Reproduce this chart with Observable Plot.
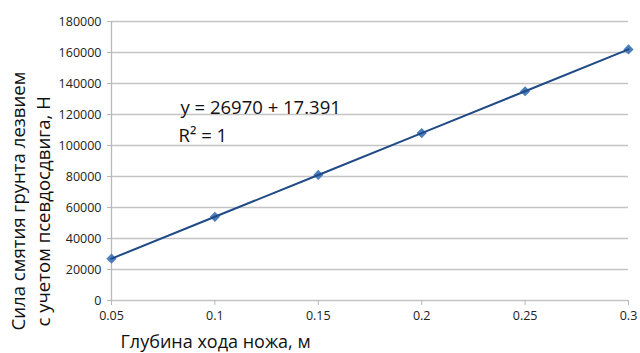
<!DOCTYPE html>
<html>
<head>
<meta charset="utf-8">
<script src="https://cdn.jsdelivr.net/npm/d3@7"></script>
<script src="https://cdn.jsdelivr.net/npm/@observablehq/plot@0.6"></script>
<style>
html, body { margin: 0; padding: 0; background: #fff; }
</style>
</head>
<body>
<div id="chart"></div>
<script>
const depth = [0.05, 0.1, 0.15, 0.2, 0.25, 0.3];
const force = [27000, 54000, 81000, 108000, 135000, 162000];
const xTicks = [0.05, 0.1, 0.15, 0.2, 0.25, 0.3];
const yTicks = [0, 20000, 40000, 60000, 80000, 100000, 120000, 140000, 160000, 180000];
const yLabelLines = ["Сила смятия грунта лезвием", "с учетом псевдосдвига, Н"];
const xLabel = "Глубина хода ножа, м";
const equation = ["y = 26970 + 17.391", "R² = 1"];

const data = depth.map((d, i) => ({x: d, y: force[i]}));
const font = "'Open Sans', 'Noto Sans', sans-serif";

const chart = Plot.plot({
  width: 640,
  height: 353,
  marginLeft: 111,
  marginRight: 12,
  marginTop: 21,
  marginBottom: 53,
  style: {fontFamily: font, background: "#fff", overflow: "visible"},
  x: {domain: [0.05, 0.3]},
  y: {domain: [0, 180000]},
  marks: [
    Plot.ruleY(yTicks, {stroke: "#c4c4c4", strokeWidth: 1.3}),
    Plot.ruleX([0.05], {stroke: "#b8b8b8", strokeWidth: 1.3}),
    Plot.axisX({ticks: xTicks, tickFormat: d => String(d), tickSize: 5, stroke: "#b8b8b8", fill: "#222", fontSize: 12.5, tickPadding: 6, label: null}),
    Plot.axisY({ticks: yTicks, tickFormat: d => String(d), tickSize: 4, stroke: "#b8b8b8", fill: "#222", fontSize: 12.5, tickPadding: 6, label: null}),
    Plot.dot(data, {x: "x", y: "y", symbol: "diamond2", r: 4.6, fill: "#4a7ebf", stroke: "none"}),
    Plot.line(data, {x: "x", y: "y", stroke: "#1f4a86", strokeWidth: 2}),
    Plot.text([equation[0]], {frameAnchor: "top-left", text: d => d, dx: 69, dy: 79, textAnchor: "start", fontSize: 18.5, fill: "#111", fontFamily: font}),
    Plot.text([equation[1]], {frameAnchor: "top-left", text: d => d, dx: 67, dy: 107, textAnchor: "start", fontSize: 18.5, fill: "#111", fontFamily: font}),
    Plot.text([yLabelLines[0]], {frameAnchor: "bottom-left", text: d => d, rotate: -90, dx: -92, dy: 30, textAnchor: "start", lineAnchor: "middle", fontSize: 18.6, fill: "#111", fontFamily: font}),
    Plot.text([yLabelLines[1]], {frameAnchor: "bottom-left", text: d => d, rotate: -90, dx: -67, dy: 26, textAnchor: "start", lineAnchor: "middle", fontSize: 18.6, fill: "#111", fontFamily: font}),
    Plot.text([xLabel], {frameAnchor: "bottom-left", text: d => d, dx: 9, dy: 42, textAnchor: "start", lineAnchor: "middle", fontSize: 18, fill: "#111", fontFamily: font})
  ]
});
document.getElementById("chart").appendChild(chart);
</script>
</body>
</html>
